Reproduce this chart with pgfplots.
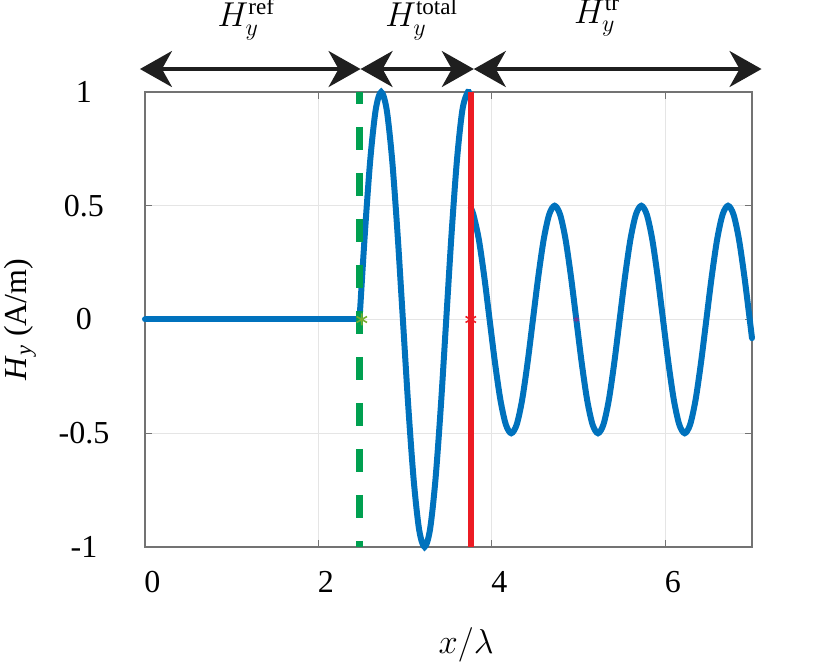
\documentclass[border=0pt]{standalone}
\usepackage{pgfplots}
\pgfplotsset{compat=1.18}
\usepackage{fontspec}
\setmainfont{Liberation Serif}
\usetikzlibrary{arrows.meta}

\definecolor{mblue}{RGB}{0,114,189}
\definecolor{mred}{RGB}{236,28,36}
\definecolor{mgreen}{RGB}{0,160,80}
\definecolor{mlgreen}{RGB}{119,172,48}
\definecolor{mpurple}{RGB}{126,47,142}

\begin{document}
\begin{tikzpicture}
% page = 831x664 px at 2 px/pt
\path[use as bounding box] (-72.5pt,-58.5pt) rectangle (343pt,273.5pt);
\begin{axis}[
  scale only axis,
  width=303.5pt, height=227.5pt,
  xmin=0, xmax=7,
  ymin=-1, ymax=1,
  xtick={0,2,4,6}, xticklabels={0,2,4,6},
  ytick={-1,-0.5,0,0.5,1}, yticklabels={-1,-0.5,0,0.5,1},
  grid=major,
  major grid style={black!10, line width=0.5pt},
  axis line style={black!55, line width=0.6pt},
  tick style={black!55, line width=0.6pt},
  major tick length=3.5pt,
  tick align=inside,
  ticklabel style={font=\fontsize{16}{19}\selectfont},
  xticklabel style={xshift=3.75pt, yshift=-8.7pt},
  yticklabel style={anchor=center, xshift=-30.5pt},
  xlabel={$x/\lambda$},
  xlabel style={at={(axis description cs:0.529,-0.215)}, anchor=center,
    font=\fontsize{16}{19}\selectfont},
  ylabel={\textit{H}\textsubscript{\textit{y}} (A/m)},
  ylabel style={at={(axis description cs:-0.206,0.5)}, anchor=center,
    font=\fontsize{16}{19}\selectfont},
  clip=false,
]
% marker hidden under the transmitted wave
\addplot[only marks, mark=asterisk, mark size=1.5pt, mpurple] coordinates {(4.974,0)};

% incident region (zero)
\addplot[mblue, line width=3pt, line cap=round] coordinates {(0,0) (2.474,0)};
% total field region
\addplot[mblue, line width=3pt, smooth, line cap=round] coordinates {
  (2.474,0) (2.5365,0.383) (2.599,0.707) (2.6615,0.924) (2.724,1)
  (2.7865,0.924) (2.849,0.707) (2.9115,0.383) (2.974,0)
  (3.0365,-0.383) (3.099,-0.707) (3.1615,-0.924) (3.224,-1)
  (3.2865,-0.924) (3.349,-0.707) (3.4115,-0.383) (3.474,0)
  (3.5365,0.383) (3.599,0.707) (3.6615,0.924) (3.724,1) (3.757,0.978)
};
% transmitted region
\addplot[mblue, line width=3pt, smooth, line cap=round] coordinates {
  (3.757,0.489) (3.7865,0.462) (3.849,0.354) (3.9115,0.191) (3.974,0)
  (4.0365,-0.191) (4.099,-0.354) (4.1615,-0.462) (4.224,-0.5)
  (4.2865,-0.462) (4.349,-0.354) (4.4115,-0.191) (4.474,0)
  (4.5365,0.191) (4.599,0.354) (4.6615,0.462) (4.724,0.5)
  (4.7865,0.462) (4.849,0.354) (4.9115,0.191) (4.974,0)
  (5.0365,-0.191) (5.099,-0.354) (5.1615,-0.462) (5.224,-0.5)
  (5.2865,-0.462) (5.349,-0.354) (5.4115,-0.191) (5.474,0)
  (5.5365,0.191) (5.599,0.354) (5.6615,0.462) (5.724,0.5)
  (5.7865,0.462) (5.849,0.354) (5.9115,0.191) (5.974,0)
  (6.0365,-0.191) (6.099,-0.354) (6.1615,-0.462) (6.224,-0.5)
  (6.2865,-0.462) (6.349,-0.354) (6.4115,-0.191) (6.474,0)
  (6.5365,0.191) (6.599,0.354) (6.6615,0.462) (6.724,0.5)
  (6.7865,0.462) (6.849,0.354) (6.9115,0.191) (6.974,0) (7.0,-0.082)
};

% boundaries
\addplot[mgreen, line width=3.25pt, dash pattern=on 11.5pt off 11.5pt, dash phase=5.5pt]
  coordinates {(2.474,1) (2.474,-1)};
\addplot[mred, line width=3pt] coordinates {(3.757,1) (3.757,-1)};

\addplot[only marks, mark=asterisk, mark size=3pt, mark options={line width=0.8pt}, mlgreen] coordinates {(2.5,0)};
\addplot[only marks, mark=asterisk, mark size=3pt, mark options={line width=0.8pt}, mred] coordinates {(3.757,0)};

% region arrows
\draw[black!88, line width=1.75pt,
  {Stealth[length=16pt,width=18pt,inset=5pt]}-{Stealth[length=16pt,width=18pt,inset=5pt]}]
  (axis cs:-0.058,1.101) -- (axis cs:2.486,1.101);
\draw[black!88, line width=1.75pt,
  {Stealth[length=16pt,width=18pt,inset=5pt]}-{Stealth[length=16pt,width=18pt,inset=5pt]}]
  (axis cs:2.486,1.101) -- (axis cs:3.792,1.101);
\draw[black!88, line width=1.75pt,
  {Stealth[length=16pt,width=18pt,inset=5pt]}-{Stealth[length=16pt,width=18pt,inset=5pt]}]
  (axis cs:3.792,1.101) -- (axis cs:7.110,1.101);

\node[anchor=base, font=\fontsize{16.5}{20}\selectfont] at (axis cs:1.168,1.286) {$H_y^{\mathrm{ref}}$};
\node[anchor=base, font=\fontsize{16.5}{20}\selectfont] at (axis cs:3.191,1.286) {$H_y^{\mathrm{total}}$};
\node[anchor=base, font=\fontsize{16.5}{20}\selectfont] at (axis cs:5.214,1.303) {$H_y^{\mathrm{tr}}$};
\end{axis}
\end{tikzpicture}
\end{document}
